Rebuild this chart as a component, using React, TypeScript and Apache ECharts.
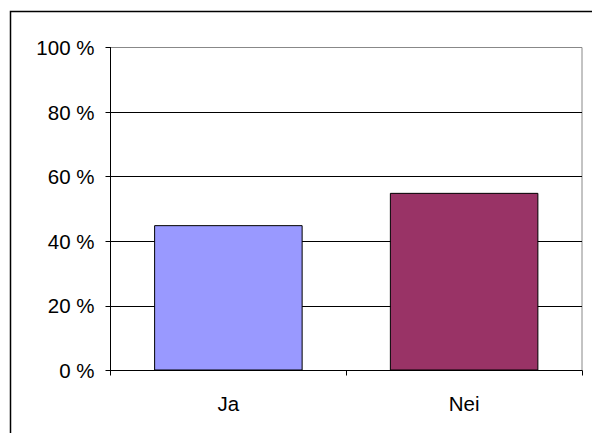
import React, { useEffect, useRef } from "react";
import * as echarts from "echarts";

const categories = ["Ja", "Nei"];
const values = [45, 55];
const barColors = ["#9999FF", "#993366"];
const yTicks = { min: 0, max: 100, interval: 20 };

export default function App() {
  const ref = useRef<HTMLDivElement>(null);
  useEffect(() => {
    document.body.style.margin = "0";
    const chart = echarts.init(ref.current!, null, { renderer: "svg" });
    const font = "'Liberation Sans', Arial, sans-serif";
    chart.setOption({
      animation: false,
      backgroundColor: "#fff",
      graphic: [
        {
          type: "rect",
          shape: { x: 10.5, y: 11.5, width: 640, height: 480 },
          style: { fill: "none", stroke: "#000", lineWidth: 1.5 },
          silent: true,
        },
      ],
      grid: {
        left: 110.5,
        right: 10,
        top: 47.5,
        bottom: 62.5,
        show: true,
        borderColor: "#888",
        borderWidth: 1,
        backgroundColor: "transparent",
      },
      xAxis: {
        type: "category",
        data: categories,
        axisLine: { show: true, lineStyle: { color: "#000", width: 1 } },
        axisTick: { show: true, length: 5, alignWithLabel: false, lineStyle: { color: "#000" } },
        axisLabel: { color: "#000", fontSize: 20.5, fontFamily: font, margin: 22 },
        splitLine: { show: false },
      },
      yAxis: {
        type: "value",
        min: yTicks.min,
        max: yTicks.max,
        interval: yTicks.interval,
        axisLine: { show: true, lineStyle: { color: "#000", width: 1 } },
        axisTick: { show: true, length: 5, lineStyle: { color: "#000" } },
        axisLabel: {
          color: "#000",
          fontSize: 20.5,
          fontFamily: font,
          margin: 16,
          formatter: "{value} %",
        },
        splitLine: {
          show: true,
          lineStyle: { color: ["#000", "#000", "#000", "#000", "#000", "#888"], width: 1 },
        },
      },
      series: [
        {
          type: "bar",
          data: values.map((v, i) => ({
            value: v,
            itemStyle: { color: barColors[i], borderColor: "#000", borderWidth: 1 },
          })),
          barCategoryGap: "37%",
        },
      ],
    });
    return () => chart.dispose();
  }, []);
  return <div ref={ref} style={{ width: 592, height: 433 }} />;
}
